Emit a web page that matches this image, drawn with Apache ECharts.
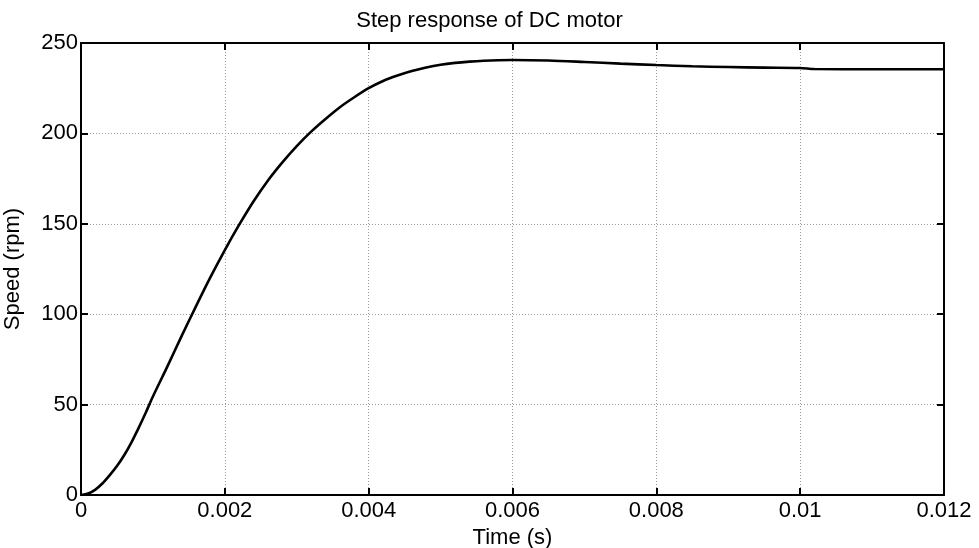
<!DOCTYPE html>
<html>
<head>
<meta charset="utf-8">
<script src="https://cdn.jsdelivr.net/npm/echarts@6/dist/echarts.min.js"></script>
<style>
  html, body { margin: 0; padding: 0; background: #fff; }
  #chart { width: 979px; height: 548px; }
</style>
</head>
<body>
<div id="chart"></div>
<script>
// 时间 (s) 与转速 (rpm)
const timeS = [
  0, 0.0001, 0.0002, 0.0003, 0.0004, 0.0005, 0.0006, 0.0007, 0.0008, 0.0009,
  0.001, 0.0012, 0.0014, 0.0016, 0.0018, 0.002, 0.0022, 0.0024, 0.0026, 0.0028,
  0.003, 0.0032, 0.0034, 0.0036, 0.0038, 0.004, 0.0042, 0.0044, 0.0046, 0.0048,
  0.005, 0.0052, 0.0054, 0.0056, 0.0058, 0.006, 0.0065, 0.007, 0.0075, 0.008,
  0.0085, 0.009, 0.0095, 0.01, 0.0102, 0.011, 0.012
];
const speedRpm = [
  0, 0.8, 3, 6.5, 11, 16, 22, 29, 37, 45.5,
  54.5, 71, 88, 104.5, 120.5, 135.5, 149.5, 162.5, 174, 184,
  193, 201, 208, 214.5, 220, 225, 229, 232, 234.5, 236.5,
  238, 239, 239.7, 240.2, 240.5, 240.6, 240.3, 239.5, 238.6, 237.8,
  237.1, 236.7, 236.4, 236.2, 235.6, 235.5, 235.5
];
const xTicks = [0, 0.002, 0.004, 0.006, 0.008, 0.01, 0.012];
const yTicks = [0, 50, 100, 150, 200, 250];

const chart = echarts.init(document.getElementById('chart'));
const font = 'Liberation Sans, Arial, sans-serif';

const boxAxis = {
  axisLine: { show: true, onZero: false, lineStyle: { color: '#000', width: 2 } },
  axisTick: { show: true, inside: true, length: 7, lineStyle: { color: '#000', width: 2 } }
};

chart.setOption({
  animation: false,
  title: {
    text: 'Step response of DC motor',
    left: 'center',
    top: 5,
    textStyle: { fontFamily: font, fontSize: 22, fontWeight: 'normal', color: '#000' }
  },
  grid: { left: 81, right: 35, top: 43, bottom: 53, containLabel: false, outerBoundsMode: 'none' },
  xAxis: [{
    type: 'value', min: 0, max: 0.012, interval: 0.002,
    name: 'Time (s)', nameLocation: 'middle', nameGap: 29,
    nameTextStyle: { fontFamily: font, fontSize: 22, color: '#000' },
    ...boxAxis,
    axisLabel: {
      fontFamily: font, fontSize: 22, color: '#000', margin: 5,
      formatter: v => String(parseFloat(v.toFixed(3)))
    },
    splitLine: { show: true, lineStyle: { color: '#9a9a9a', type: [1, 2], width: 1 } }
  }, {
    type: 'value', position: 'top', min: 0, max: 0.012, interval: 0.002,
    ...boxAxis, axisLabel: { show: false }, splitLine: { show: false }
  }],
  yAxis: [{
    type: 'value', min: 0, max: 250, interval: 50,
    name: 'Speed (rpm)', nameLocation: 'middle', nameGap: 57,
    nameTextStyle: { fontFamily: font, fontSize: 22, color: '#000' },
    ...boxAxis,
    axisLabel: { fontFamily: font, fontSize: 22, color: '#000', margin: 3 },
    splitLine: { show: true, lineStyle: { color: '#9a9a9a', type: [1, 2], width: 1 } }
  }, {
    type: 'value', position: 'right', min: 0, max: 250, interval: 50,
    ...boxAxis, axisLabel: { show: false }, splitLine: { show: false }
  }],
  series: [{
    type: 'line',
    data: timeS.map((t, i) => [t, speedRpm[i]]),
    showSymbol: false,
    smooth: 0.3,
    lineStyle: { color: '#000', width: 2.6 },
    z: 5
  }]
});

window.addEventListener('resize', () => chart.resize());
</script>
</body>
</html>
